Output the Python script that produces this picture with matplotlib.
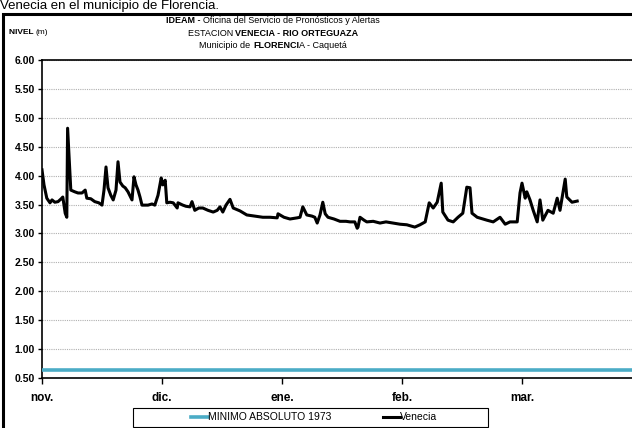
"""
Nivel del rio Orteguaza en la estacion Venecia (Florencia, Caqueta),
noviembre - marzo, con el minimo absoluto de 1973 como referencia.
"""

import numpy as np
import matplotlib
matplotlib.use('Agg')
import matplotlib.pyplot as plt
from matplotlib.patches import Rectangle

# ---------------------------------------------------------------------------
FONT = ['Liberation Sans Narrow', 'Liberation Sans', 'DejaVu Sans']

# days since 1 nov.
DAYS = [0, 0.5, 1.2, 2, 2.5, 3.2, 4, 4.8, 5.2, 5.8, 6.2, 6.4, 6.8, 7.2, 8.2, 9, 10,
        10.8, 11.2, 12.2, 13.2, 14.2, 15, 15.5, 16, 16.5, 17.2, 17.8, 18.5, 19,
        19.5, 20.2, 20.8, 21.5, 22, 22.5, 23, 23.5, 24, 24.5, 25, 26.5, 27.5,
        28.2, 29, 29.8, 30.2, 30.8, 31.2, 32, 32.8, 33.8, 34, 35.2, 36, 37, 37.5,
        38.2, 39.2, 40.2, 41.5, 42.8, 43.8, 44.5, 45.2, 46, 47, 47.8, 49.5, 51.2,
        53.2, 55.2, 57, 58.8, 59, 60.5, 62, 63.8, 64.5, 65.2, 66.2, 67.5, 68.2,
        68.8, 69.5, 70.2, 70.8, 71.5, 73, 74.5, 76, 77, 78.2, 78.8, 79, 79.5,
        80.5, 81.2, 82.8, 84.5, 86, 87.8, 89.5, 91.2, 93.2, 94.5, 95.8, 96.8,
        97.8, 98.8, 99.8, 100.2, 101.5, 102.8, 104, 105.2, 106.2, 107, 107.5,
        108.8, 111.2, 112.8, 114.5, 115.8, 117, 118.8, 119.5, 120, 120.8, 121.2,
        122, 122.8, 123.8, 124.5, 125.2, 126.5, 127.8, 128.8, 129.5, 130.8,
        131.2, 132.5, 133.8]
NIVEL = [4.10, 3.84, 3.61, 3.53, 3.58, 3.54, 3.55, 3.60, 3.63, 3.35, 3.28, 4.82,
         4.27, 3.75, 3.72, 3.70, 3.70, 3.75, 3.61, 3.60, 3.55, 3.53, 3.49, 3.75,
         4.15, 3.79, 3.66, 3.58, 3.75, 4.24, 3.89, 3.82, 3.79, 3.72, 3.65, 3.58,
         3.98, 3.84, 3.75, 3.63, 3.49, 3.49, 3.51, 3.49, 3.66, 3.96, 3.84, 3.92,
         3.53, 3.54, 3.53, 3.44, 3.53, 3.49, 3.47, 3.46, 3.55, 3.40, 3.44, 3.44,
         3.40, 3.37, 3.40, 3.46, 3.37, 3.49, 3.59, 3.44, 3.39, 3.32, 3.30, 3.28,
         3.28, 3.27, 3.34, 3.28, 3.25, 3.27, 3.28, 3.46, 3.32, 3.30, 3.28, 3.18,
         3.32, 3.54, 3.34, 3.28, 3.25, 3.21, 3.21, 3.20, 3.20, 3.09, 3.11, 3.28,
         3.23, 3.20, 3.21, 3.18, 3.20, 3.18, 3.16, 3.15, 3.11, 3.15, 3.20, 3.53,
         3.44, 3.54, 3.87, 3.37, 3.23, 3.20, 3.28, 3.35, 3.80, 3.79, 3.35, 3.28,
         3.23, 3.20, 3.28, 3.16, 3.20, 3.20, 3.70, 3.87, 3.61, 3.72, 3.58, 3.40,
         3.20, 3.58, 3.23, 3.40, 3.35, 3.61, 3.40, 3.94, 3.63, 3.54, 3.56]

MINIMO_1973 = 0.64

MES_DIAS   = [0, 30, 60, 90, 120]
MES_LABELS = ['nov.', 'dic.', 'ene.', 'feb.', 'mar.']
Y_TICKS    = np.arange(0.5, 6.01, 0.5)

BLUE = '#4bacc6'
W, H = 632, 428
# ---------------------------------------------------------------------------


def rich_text(fig, renderer, x_px, y_px, parts, size, ha='center'):
    """Draw a line made of (text, weight) pieces, placed in pixel coords."""
    texts, widths = [], []
    for s, wt in parts:
        t = fig.text(0, 0, s, fontsize=size, fontweight=wt, family=FONT,
                     va='center', ha='left', zorder=5)
        widths.append(t.get_window_extent(renderer).width)
        texts.append(t)
    total = sum(widths)
    x0 = x_px - total / 2 if ha == 'center' else x_px
    for t, w in zip(texts, widths):
        t.set_position((x0 / W, 1 - y_px / H))
        x0 += w


def main():
    fig = plt.figure(figsize=(W / 100, H / 100), dpi=100)
    ax = fig.add_axes([42 / W, 1 - 378 / H, 1 - 42 / W, (378 - 60) / H])

    ax.axhline(MINIMO_1973, color=BLUE, lw=2.6, label='MINIMO ABSOLUTO 1973',
               zorder=3)
    ax.plot(DAYS, NIVEL, color='black', lw=2.2, label='Venecia', zorder=4,
            solid_joinstyle='round')

    ax.set_xlim(0, (W - 42) / 4.0)
    ax.set_ylim(0.5, 6.0)
    ax.set_xticks(MES_DIAS)
    ax.set_xticklabels(MES_LABELS, fontsize=8.5, fontweight='bold', family=FONT)
    ax.set_yticks(Y_TICKS)
    ax.set_yticklabels([f'{v:.2f}' for v in Y_TICKS], fontsize=7.5,
                       fontweight='bold', family=FONT)
    ax.tick_params(axis='x', length=4, width=1, pad=6)
    ax.tick_params(axis='y', length=3, width=1, pad=2)
    ax.yaxis.grid(True, color='#b0b0b0', lw=0.8, ls=(0, (1, 1)))
    ax.set_axisbelow(True)
    for side in ('left', 'bottom', 'top'):
        ax.spines[side].set_linewidth(1.2)
    ax.spines['right'].set_visible(False)

    # legend: centred entries inside a wide box
    ax.legend(loc='center', ncol=2, bbox_to_anchor=(314 / W, 1 - 417.5 / H),
              bbox_transform=fig.transFigure, frameon=False,
              handlelength=1.6, handletextpad=0.0, columnspacing=5.0,
              prop={'family': FONT, 'size': 7.5})
    fig.patches.append(Rectangle((133 / W, 1 - 427 / H), 355 / W, 19 / H,
                                 transform=fig.transFigure, fill=False,
                                 edgecolor='black', lw=0.8))

    # outer frame of the chart (cut off at right and bottom)
    fig.patches.append(Rectangle((3 / W, -0.05), 1.1, 1 - 14 / H + 0.05,
                                 transform=fig.transFigure, fill=False,
                                 edgecolor='black', lw=2.2, zorder=0))

    fig.text(0.0, 1 - 6 / H, 'Venecia en el municipio de Florencia.',
             fontsize=9.5, family=['Liberation Sans', 'DejaVu Sans'],
             va='center', ha='left')

    fig.canvas.draw()
    r = fig.canvas.get_renderer()
    rich_text(fig, r, 273, 20.5,
              [('IDEAM - ', 'bold'),
               ('Oficina del Servicio de Pronósticos y Alertas', 'normal')], 6.5)
    rich_text(fig, r, 273, 33,
              [('ESTACION ', 'normal'), ('VENECIA - RIO ORTEGUAZA', 'bold')], 6.5)
    rich_text(fig, r, 273, 46,
              [('Municipio de ', 'normal'), ('FLORENCI', 'bold'),
               ('A - Caquetá', 'normal')], 6.5)
    rich_text(fig, r, 9, 33, [('NIVEL ', 'bold'), ('(m)', 'normal')], 6,
              ha='left')

    fig.savefig('out.png', dpi=100)
    plt.close(fig)


if __name__ == '__main__':
    main()
